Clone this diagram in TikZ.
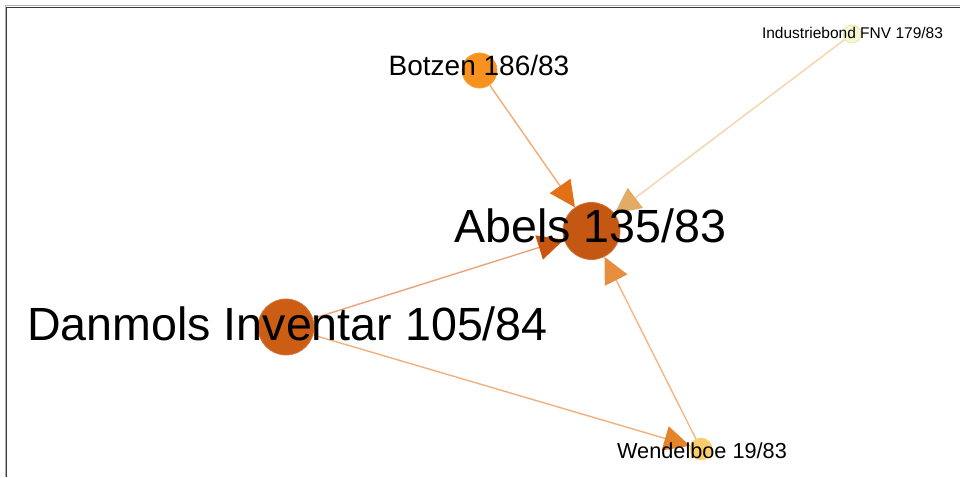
\documentclass[tikz,border=0pt]{standalone}
\usepackage{fontspec}
\setmainfont{Liberation Sans}
\usetikzlibrary{arrows.meta,backgrounds}
\definecolor{abelsc}{RGB}{196,88,18}
\definecolor{danmolsc}{RGB}{203,94,20}
\definecolor{botzenc}{RGB}{247,146,30}
\definecolor{wendelc}{RGB}{250,204,108}
\definecolor{indc}{RGB}{248,247,212}
\definecolor{indline}{RGB}{232,230,160}
\definecolor{eBotzen}{RGB}{240,172,120}
\definecolor{eInd}{RGB}{245,212,172}
\definecolor{eDanA}{RGB}{236,162,122}
\definecolor{eWenA}{RGB}{241,182,132}
\definecolor{eDanW}{RGB}{240,176,126}
\definecolor{aBotzen}{RGB}{226,112,22}
\definecolor{aInd}{RGB}{226,172,102}
\definecolor{aDanA}{RGB}{200,86,16}
\definecolor{aWenA}{RGB}{231,142,62}
\definecolor{aDanW}{RGB}{226,132,42}
\tikzset{
  gnode/.style={circle, inner sep=0pt, line width=0.8pt},
  edgeline/.style={line width=1.4pt},
  lbl/.style={anchor=base, inner sep=0pt, text=black},
}
\newcommand{\tipof}[1]{{Triangle[length=26pt,width=25pt,color=#1]}}
\begin{document}
\begin{tikzpicture}[x=1pt,y=-1pt]
\useasboundingbox (0,0) rectangle (960,477);
% frame
\draw[color=black!30, line width=1pt] (5.2,477) -- (5.2,5.5) -- (960,5.5);
\draw[color=black!78, line width=1.5pt] (6.7,477) -- (6.7,7.3) -- (960,7.3);
% nodes
\node[gnode, minimum size=57pt, fill=abelsc, draw=abelsc!85!white] (abels) at (591.5,231) {};
\node[gnode, minimum size=56pt, fill=danmolsc, draw=danmolsc!85!white] (danmols) at (286,327) {};
\node[gnode, minimum size=35pt, fill=botzenc, draw=botzenc!85!white] (botzen) at (479.5,70.5) {};
\node[gnode, minimum size=22pt, fill=wendelc, draw=wendelc!85!white] (wendel) at (701,449) {};
\node[gnode, minimum size=18pt, fill=indc, draw=indline] (ind) at (852,34) {};
% edges
\begin{scope}[on background layer]
\draw[edgeline, color=eBotzen, -\tipof{aBotzen}] (botzen) -- (abels);
\draw[edgeline, color=eInd, -\tipof{aInd}] (ind) -- (abels);
\draw[edgeline, color=eDanA, -\tipof{aDanA}] (danmols) -- (abels);
\draw[edgeline, color=eWenA, -\tipof{aWenA}] (wendel) -- (abels);
\draw[edgeline, color=eDanW, -\tipof{aDanW}] (danmols) -- (wendel);
\end{scope}
% labels
\node[lbl, font=\fontsize{46.6}{50}\selectfont] (abelsl) at (590.5,242) {Abels 135/83};
\node[lbl, font=\fontsize{46.6}{50}\selectfont] (danmolsl) at (287.5,340) {Danmols Inventar 105/84};
\node[lbl, font=\fontsize{28}{32}\selectfont] (botzenl) at (479,75.5) {Botzen 186/83};
\node[lbl, font=\fontsize{21.7}{24}\selectfont] (wendell) at (702,458) {Wendelboe 19/83};
\node[lbl, font=\fontsize{15.5}{18}\selectfont] (indl) at (852.5,38) {Industriebond FNV 179/83};
\end{tikzpicture}
\end{document}
